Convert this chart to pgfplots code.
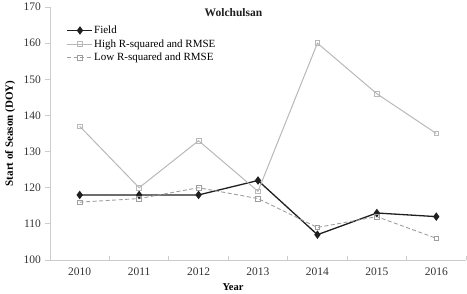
\documentclass[border=0pt]{standalone}
\usepackage{pgfplots}
\pgfplotsset{compat=1.18}
\usepackage{fontspec}
\setmainfont{Liberation Serif}
\begin{document}
\begin{tikzpicture}
\useasboundingbox (-50pt,-34pt) rectangle (417pt,260pt);
\begin{axis}[
  at={(0pt,0pt)}, anchor=south west,
  scale only axis,
  width=416pt, height=253pt,
  xmin=-0.5, xmax=6.5,
  ymin=100, ymax=170,
  ytick={100,110,...,170},
  xtick={0,1,2,3,4,5,6},
  xticklabels={2010,2011,2012,2013,2014,2015,2016},
  axis x line*=bottom,
  axis y line*=left,
  axis line style={gray!40, line width=0.9pt, -},
  major tick length=4.5pt,
  tick align=outside,
  ytick style={gray!40, line width=0.9pt},
  xtick style={draw=none},
  tick label style={font=\fontsize{11.5}{13}\selectfont, text=black!80},
  yticklabel style={xshift=-1pt},
  /pgf/number format/assume math mode=true,
  xlabel={\textbf{Year}},
  ylabel={\textbf{Start of Season (DOY)}},
  xlabel style={font=\fontsize{10.5}{12}\selectfont, at={(axis description cs:0.44,-0.107)}, anchor=center},
  ylabel style={font=\fontsize{11}{12}\selectfont, at={(axis description cs:-0.096,0.5)}, anchor=center},
  clip=false,
  legend style={at={(axis description cs:0.040,0.93)}, anchor=north west, draw=none, fill=none,
    font=\fontsize{11}{13}\selectfont, row sep=2.5pt, inner sep=0pt,
    nodes={inner sep=1pt}},
  legend cell align=left,
  legend image code/.code={\draw[#1] (0pt,0pt) -- (25pt,0pt); \draw[#1,only marks] plot coordinates {(12.5pt,0pt)};},
]
\pgfplotsinvokeforeach{0.5,1.5,2.5,3.5,4.5,5.5,6.5}{
  \draw[gray!40, line width=0.9pt] (axis cs:#1,100) -- (axis cs:#1,101.2);
}
\addplot[black!88, line width=1.3pt, mark=diamond*, mark size=3.2pt, mark options={solid, fill=black!88}]
  coordinates {(0,118) (1,118) (2,118) (3,122) (4,107) (5,113) (6,112)};
\addlegendentry{Field}
\addplot[black!28, line width=1pt, mark=square, mark size=2.3pt, mark options={solid, line width=0.7pt, fill=white}]
  coordinates {(0,137) (1,120) (2,133) (3,119) (4,160) (5,146) (6,135)};
\addlegendentry{High R-squared and RMSE}
\addplot[black!38, line width=0.9pt, dash pattern=on 4pt off 2.5pt, mark=square, mark size=2.3pt, mark options={solid, line width=0.7pt, fill=white}]
  coordinates {(0,116) (1,117) (2,120) (3,117) (4,109) (5,112) (6,106)};
\addlegendentry{Low R-squared and RMSE}
\node[font=\fontsize{11.5}{13}\selectfont\bfseries, text=black!88] at (axis description cs:0.441,0.976) {Wolchulsan};
\end{axis}
\end{tikzpicture}
\end{document}
